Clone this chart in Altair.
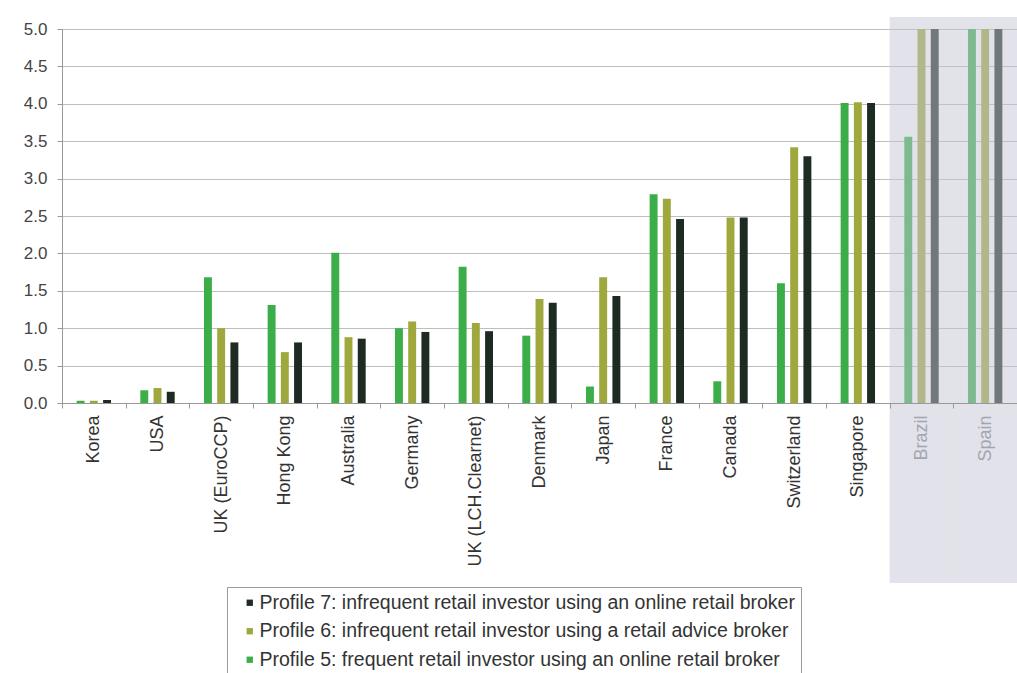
import altair as alt
import pandas as pd

countries = ["Korea", "USA", "UK (EuroCCP)", "Hong Kong", "Australia", "Germany",
             "UK (LCH.Clearnet)", "Denmark", "Japan", "France", "Canada",
             "Switzerland", "Singapore", "Brazil", "Spain"]
p5_vals = [0.03, 0.17, 1.68, 1.31, 2.01, 1.00, 1.82, 0.90, 0.22, 2.79, 0.29, 1.60, 4.01, 3.56, 5.00]
p6_vals = [0.03, 0.20, 1.00, 0.68, 0.88, 1.09, 1.07, 1.39, 1.68, 2.73, 2.48, 3.42, 4.02, 5.00, 5.00]
p7_vals = [0.04, 0.15, 0.81, 0.81, 0.86, 0.95, 0.96, 1.34, 1.43, 2.46, 2.48, 3.30, 4.01, 5.00, 5.00]

p5 = "Profile 5: frequent retail investor using an online retail broker"
p6 = "Profile 6: infrequent retail investor using a retail advice broker"
p7 = "Profile 7: infrequent retail investor using an online retail broker"
bar_order = [p5, p6, p7]
legend_order = [p7, p6, p5]
colors_by_legend = ["#1d2b22", "#9fa83d", "#3bae49"]
shaded = ["Brazil", "Spain"]

rows = []
for c, a, b, d in zip(countries, p5_vals, p6_vals, p7_vals):
    rows.append({"country": c, "profile": p5, "value": a})
    rows.append({"country": c, "profile": p6, "value": b})
    rows.append({"country": c, "profile": p7, "value": d})
df = pd.DataFrame(rows)
shade_df = pd.DataFrame({"country": shaded})

W, H = 955, 374
FONT = "Liberation Sans"

bars = alt.Chart(df).mark_bar().encode(
    x=alt.X("country:N", sort=countries,
            scale=alt.Scale(domain=countries, paddingInner=0.46, paddingOuter=0.23),
            axis=None),
    xOffset=alt.XOffset("profile:N", sort=bar_order,
                        scale=alt.Scale(domain=bar_order, paddingInner=0.4, paddingOuter=0)),
    y=alt.Y("value:Q", scale=alt.Scale(domain=[0, 5], nice=False),
            axis=alt.Axis(title=None, values=[0, 0.5, 1, 1.5, 2, 2.5, 3, 3.5, 4, 4.5, 5],
                          format=".1f", grid=True, gridColor="#bdbdbd", gridWidth=1,
                          domainColor="#999999", tickColor="#999999", tickSize=5,
                          labelPadding=10, labelFontSize=17, labelFont=FONT,
                          labelColor="#444444")),
    color=alt.Color("profile:N",
                    scale=alt.Scale(domain=legend_order, range=colors_by_legend),
                    legend=alt.Legend(title=None, orient="none", legendX=165, legendY=558,
                                      strokeColor="#9a9a9a", fillColor="white",
                                      padding=6, symbolOffset=7, labelOffset=0,
                                      symbolType="square", symbolSize=40,
                                      symbolStrokeWidth=0, labelFontSize=19.5,
                                      labelFont=FONT, labelColor="#333333",
                                      labelLimit=800, rowPadding=7.5)),
)

label_color = {"expr": "indexof(['Brazil','Spain'], datum.value) >= 0 ? '#a3a5b3' : '#333333'"}

overlay = alt.Chart(shade_df).mark_rect(fill="#c3c5d6", opacity=0.5).encode(
    x=alt.X("country:N", sort=countries,
            scale=alt.Scale(domain=countries, paddingInner=0, paddingOuter=0),
            axis=alt.Axis(title=None, labelAngle=-90, tickBand="extent", tickSize=5,
                          tickColor="#999999", domainColor="#999999", labelPadding=7,
                          labelFontSize=18, labelFont=FONT, labelColor=label_color,
                          labelLimit=300)),
    y=alt.value(-12),
    y2=alt.value(H + 180),
)

chart = alt.layer(bars, overlay).resolve_scale(x="independent").properties(
    width=W, height=H,
    autosize=alt.AutoSizeParams(type="none"),
    padding={"left": 62, "top": 29, "right": 0, "bottom": 270},
).configure_view(stroke=None).configure(background="white")

chart.save("out.html", embed_options={"renderer": "svg", "actions": False})
